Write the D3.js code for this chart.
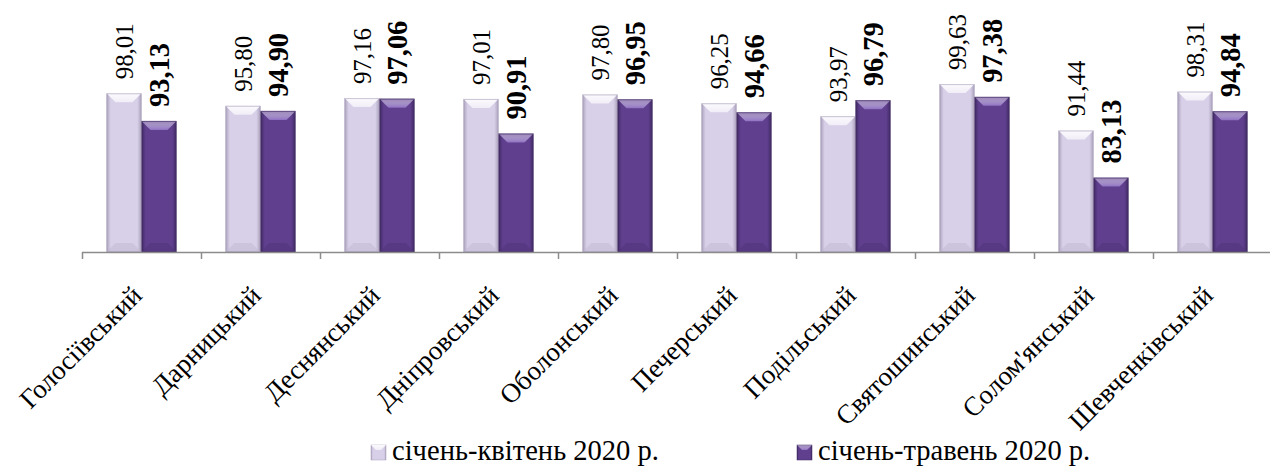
<!DOCTYPE html>
<html>
<head>
<meta charset="utf-8">
<script src="https://cdn.jsdelivr.net/npm/d3@7"></script>
</head>
<body style="margin:0">
<div id="chart"></div>
<script>
// districts of Kyiv
var categories = ["Голосіївський", "Дарницький", "Деснянський", "Дніпровський", "Оболонський",
                  "Печерський", "Подільський", "Святошинський", "Солом'янський", "Шевченківський"];
var series = ["січень-квітень 2020 р.", "січень-травень 2020 р."];
var valuesJanApr = [98.01, 95.80, 97.16, 97.01, 97.80, 96.25, 93.97, 99.63, 91.44, 98.31];
var valuesJanMay = [93.13, 94.90, 97.06, 90.91, 96.95, 94.66, 96.79, 97.38, 83.13, 94.84];
var yDomain = [70, 100];

var W = 1270, H = 467;
var left = 82, right = 1272, yBase = 252, yTop = 82;
var fontName = "Liberation Serif";

var data = [];
categories.forEach((c, i) => {
    data.push({cat: c, s: 0, v: valuesJanApr[i]});
    data.push({cat: c, s: 1, v: valuesJanMay[i]});
});

var xScale = d3.scaleBand().domain(categories).range([left, right]).paddingInner(0).paddingOuter(0);
var xSub = d3.scaleBand().domain([0, 1]).range([0, xScale.bandwidth()]).paddingInner(0).paddingOuter(0.7);
var yScale = d3.scaleLinear().domain(yDomain).range([yBase, yTop]);

var svg = d3.select("#chart").append("svg")
    .attr("width", W).attr("height", H);

// pick a font size so a sample string gets the width seen in the picture
function fitSize(sample, base, target, weight) {
    var t = svg.append("text").attr("font-size", base)
        .attr("font-weight", weight || "normal")
        .style("font-family", fontName).text(sample);
    var len = t.node().getComputedTextLength();
    t.remove();
    return len > 0 ? base * target / len : base;
}
var fsValue = fitSize("98,01", 25, 56);
var fsValueBold = fitSize("93,13", 27, 64, "bold");
var fsCat = fitSize("Голосіївський", 27, 160);
var fsLegend = fitSize(series[0], 27, 267);

var defs = svg.append("defs");
// horizontal shading: darker edges, lighter middle
var pal = [
    {edge: "#aaa0bb", mid: "#d8d0e8", bevel: "#f1edf7", bottom: "#c4bad6"},
    {edge: "#3f2a62", mid: "#5f3f8e", bevel: "#8d6fc2", bottom: "#503579"}
];
pal.forEach((p, i) => {
    var g = defs.append("linearGradient").attr("id", "grad" + i)
        .attr("x1", "0").attr("x2", "1").attr("y1", "0").attr("y2", "0");
    g.append("stop").attr("offset", "0").attr("stop-color", p.edge);
    g.append("stop").attr("offset", "0.12").attr("stop-color", p.mid);
    g.append("stop").attr("offset", "0.88").attr("stop-color", p.mid);
    g.append("stop").attr("offset", "1").attr("stop-color", p.edge);
    var gb = defs.append("linearGradient").attr("id", "bev" + i)
        .attr("x1", "0").attr("x2", "0").attr("y1", "0").attr("y2", "1");
    gb.append("stop").attr("offset", "0").attr("stop-color", "#ffffff").attr("stop-opacity", i ? 0.35 : 0.9);
    gb.append("stop").attr("offset", "1").attr("stop-color", p.bevel);
});

var bx = d => xScale(d.cat) + xSub(d.s);
var bw = xSub.bandwidth();
var bev = 9;

var bars = svg.append("g").attr("class", "bars");
bars.selectAll("rect.bar").data(data).enter().append("rect")
    .attr("class", "bar")
    .attr("x", bx)
    .attr("y", d => yScale(d.v))
    .attr("width", bw)
    .attr("height", d => yBase - yScale(d.v))
    .attr("fill", d => `url(#grad${d.s})`);
// top bevel
bars.selectAll("path.bevel").data(data).enter().append("path")
    .attr("class", "bevel")
    .attr("d", d => {
        var l = bx(d), t = yScale(d.v);
        return `M${l},${t}H${l + bw}L${l + bw - bev},${t + bev}H${l + bev}Z`;
    })
    .attr("fill", d => `url(#bev${d.s})`);
// bottom bevel
bars.selectAll("path.bbevel").data(data).enter().append("path")
    .attr("class", "bbevel")
    .attr("d", d => {
        var l = bx(d);
        return `M${l},${yBase}H${l + bw}L${l + bw - bev},${yBase - bev}H${l + bev}Z`;
    })
    .attr("fill", d => pal[d.s].bottom)
    .attr("fill-opacity", 0.6);
bars.selectAll("rect.outline").data(data).enter().append("rect")
    .attr("class", "outline")
    .attr("x", d => bx(d) + 0.5)
    .attr("y", d => yScale(d.v) + 0.5)
    .attr("width", bw - 1)
    .attr("height", d => yBase - yScale(d.v) - 1)
    .attr("fill", "none")
    .attr("stroke", d => pal[d.s].edge)
    .attr("stroke-opacity", 0.6);

// axis
var axis = svg.append("g").attr("class", "axis");
axis.append("line")
    .attr("x1", left).attr("x2", right)
    .attr("y1", yBase + 0.5).attr("y2", yBase + 0.5)
    .attr("stroke", "#8c8c8c").attr("stroke-width", 1.5);
var tickPos = categories.map(c => xScale(c)).concat([right]);
axis.selectAll("line.tick").data(tickPos).enter().append("line")
    .attr("class", "tick")
    .attr("x1", d => Math.round(d) + 0.5).attr("x2", d => Math.round(d) + 0.5)
    .attr("y1", yBase).attr("y2", yBase + 7)
    .attr("stroke", "#8c8c8c").attr("stroke-width", 1.5);

// category labels, right end of text at the category centre
var catText = axis.selectAll("text.cat").data(categories).enter().append("text")
    .attr("class", "cat")
    .attr("font-size", fsCat)
    .style("font-family", fontName)
    .text(c => c);
catText.each(function(c) {
    var len = this.getComputedTextLength();
    d3.select(this)
        .attr("x", -len)
        .attr("transform", `translate(${xScale(c) + xScale.bandwidth() / 2 + 2},${yBase + 45}) rotate(-45)`);
});

// value labels
svg.append("g").attr("class", "labels")
    .selectAll("text").data(data).enter().append("text")
    .attr("dy", "0.35em")
    .attr("font-size", d => d.s ? fsValueBold : fsValue)
    .attr("font-weight", d => d.s ? "bold" : "normal")
    .style("font-family", fontName)
    .attr("transform", d => `translate(${bx(d) + bw / 2},${yScale(d.v) - 14}) rotate(-90)`)
    .text(d => d3.format(".2f")(d.v).replace(".", ","));

// legend
var legX = [371, 797];
var leg = svg.append("g").attr("class", "legend")
    .selectAll("g").data(series).enter().append("g")
    .attr("transform", (d, i) => `translate(${legX[i]},445)`);
leg.append("rect")
    .attr("width", 15).attr("height", 15)
    .attr("fill", (d, i) => `url(#grad${i})`)
    .attr("stroke", (d, i) => pal[i].edge).attr("stroke-width", 0.5);
leg.append("path")
    .attr("d", "M0,0H15L10,5H5Z")
    .attr("fill", (d, i) => `url(#bev${i})`);
leg.append("text")
    .attr("x", 21).attr("y", 15)
    .attr("font-size", fsLegend)
    .style("font-family", fontName)
    .text(d => d);
</script>
</body>
</html>
